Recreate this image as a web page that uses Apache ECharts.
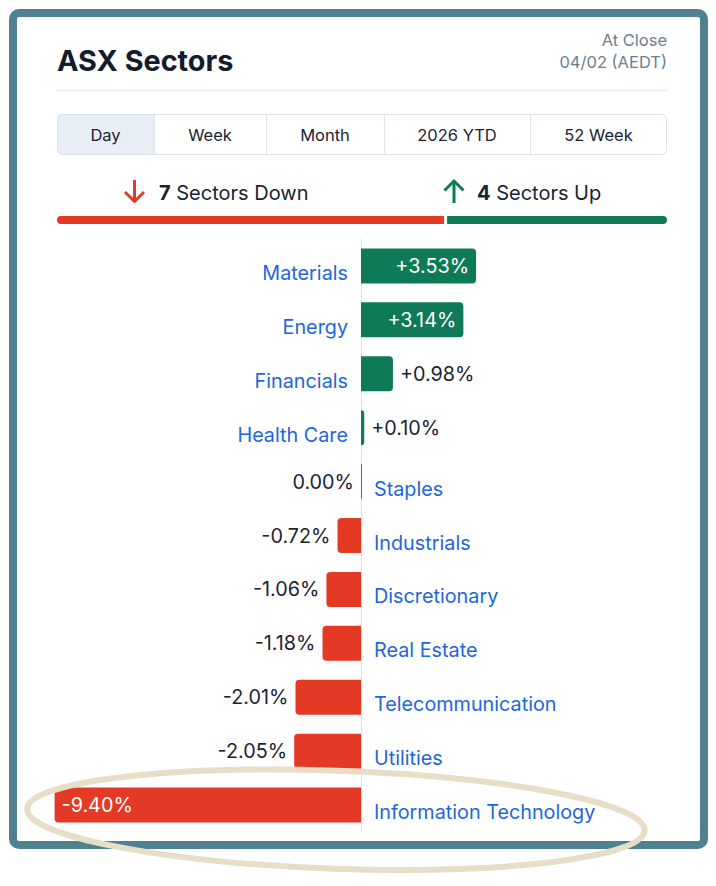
<!DOCTYPE html>
<html>
<head>
<meta charset="utf-8">
<style>
  html, body { margin: 0; padding: 0; background: #ffffff; }
  #chart { width: 716px; height: 886px; }
</style>
<script src="https://cdn.jsdelivr.net/npm/echarts@6/dist/echarts.min.js"></script>
</head>
<body>
<div id="chart"></div>
<script>
// ---------- DATA ----------
const categories = ['Materials', 'Energy', 'Financials', 'Health Care', 'Staples', 'Industrials',
  'Discretionary', 'Real Estate', 'Telecommunication', 'Utilities', 'Information Technology'];
const changes = [3.53, 3.14, 0.98, 0.10, 0.00, -0.72, -1.06, -1.18, -2.01, -2.05, -9.40];
const tabs = ['Day', 'Week', 'Month', '2026 YTD', '52 Week'];
const activeTab = 'Day';
const title = 'ASX Sectors';
const statusLines = ['At Close', '04/02 (AEDT)'];

// ---------- STYLE ----------
const FONT = 'Inter, "Noto Sans", sans-serif';
const GREEN = '#0e7a57';
const RED = '#e43a25';
const BLUE = '#2266db';
const DARK = '#1b2333';
const FRAME = '#4f8191';
const LABEL_SIZE = 19.8;

const upCount = changes.filter(v => v > 0).length;
const downCount = changes.filter(v => v <= 0).length;

function fmt(v) { return (v > 0 ? '+' : '') + v.toFixed(2) + '%'; }

// tab layout (widths in px)
const tabX0 = 57, tabY = 114, tabH = 40;
const tabWidths = [97, 112, 118, 146, 137];

const graphics = [];
// frame
graphics.push({ type: 'rect', shape: { x: 13, y: 13, width: 691, height: 832, r: 6 },
  style: { fill: '#ffffff', stroke: FRAME, lineWidth: 8 }, z: -10 });
// title
graphics.push({ type: 'text', x: 57, y: 60, style: { text: title, font: 'bold 28.8px ' + FONT,
  fill: '#141b2b', verticalAlign: 'middle', textAlign: 'left' } });
graphics.push({ type: 'text', x: 667, y: 40, style: { text: statusLines[0], font: '16.5px ' + FONT,
  fill: '#6a7e95', verticalAlign: 'middle', textAlign: 'right' } });
graphics.push({ type: 'text', x: 667, y: 62, style: { text: statusLines[1], font: '16.5px ' + FONT,
  fill: '#6a7e95', verticalAlign: 'middle', textAlign: 'right' } });
// divider
graphics.push({ type: 'line', shape: { x1: 57, y1: 90.5, x2: 667, y2: 90.5 },
  style: { stroke: '#e4e9f0', lineWidth: 1.5 } });
// tabs
let tx = tabX0;
tabs.forEach((t, i) => {
  const w = tabWidths[i];
  if (t === activeTab) {
    graphics.push({ type: 'rect', shape: { x: tx, y: tabY, width: w, height: tabH, r: i === 0 ? [5, 0, 0, 5] : 0 },
      style: { fill: '#e8eef6' } });
  }
  if (i > 0) {
    graphics.push({ type: 'line', shape: { x1: tx + 0.5, y1: tabY, x2: tx + 0.5, y2: tabY + tabH },
      style: { stroke: '#dfe5ed', lineWidth: 1 } });
  }
  graphics.push({ type: 'text', x: tx + w / 2, y: tabY + tabH / 2 + 1, style: { text: t, font: '16.5px ' + FONT,
    fill: DARK, textAlign: 'center', verticalAlign: 'middle' } });
  tx += w;
});
graphics.push({ type: 'rect', shape: { x: tabX0 + 0.5, y: tabY + 0.5, width: 609, height: tabH, r: 5 },
  style: { fill: 'none', stroke: '#dbe2ea', lineWidth: 1 } });
// arrows
graphics.push({ type: 'line', shape: { x1: 134.5, y1: 180, x2: 134.5, y2: 201 }, style: { stroke: RED, lineWidth: 3 } });
graphics.push({ type: 'polyline', shape: { points: [[125, 192], [134.5, 201.5], [144, 192]] },
  style: { stroke: RED, lineWidth: 3, fill: 'none' } });
graphics.push({ type: 'line', shape: { x1: 454, y1: 182, x2: 454, y2: 203 }, style: { stroke: GREEN, lineWidth: 3 } });
graphics.push({ type: 'polyline', shape: { points: [[444.5, 190.5], [454, 181], [463.5, 190.5]] },
  style: { stroke: GREEN, lineWidth: 3, fill: 'none' } });
// counts text
graphics.push({ type: 'text', x: 159, y: 193, style: { text: '{b|' + downCount + '} Sectors Down',
  font: '20px ' + FONT, fill: DARK, verticalAlign: 'middle',
  rich: { b: { fontWeight: 'bold', fontSize: 20, fontFamily: FONT, fill: DARK } } } });
graphics.push({ type: 'text', x: 477, y: 193, style: { text: '{b|' + upCount + '} Sectors Up',
  font: '20px ' + FONT, fill: DARK, verticalAlign: 'middle',
  rich: { b: { fontWeight: 'bold', fontSize: 20, fontFamily: FONT, fill: DARK } } } });
// annotation ellipse
graphics.push({ type: 'ellipse', shape: { cx: 336, cy: 820, rx: 309, ry: 49 },
  rotation: -0.035, originX: 336, originY: 820,
  style: { fill: 'none', stroke: '#e6dec6', lineWidth: 6 }, z: 100 });

const valueData = changes.map(v => {
  const pos = v > 0;
  const inside = Math.abs(v) >= 3;
  return {
    value: v,
    itemStyle: { color: pos ? GREEN : RED, borderRadius: pos ? [0, 4, 4, 0] : [4, 0, 0, 4] },
    label: {
      position: pos ? (inside ? 'insideRight' : 'right') : (inside ? 'insideLeft' : 'left'),
      color: inside ? '#ffffff' : DARK
    }
  };
});
const nameData = changes.map(v => ({
  value: v,
  label: { position: v > 0 ? 'left' : 'right' }
}));

const chart = echarts.init(document.getElementById('chart'), null, { renderer: 'svg' });
chart.setOption({
  backgroundColor: '#ffffff',
  animation: false,
  graphic: graphics,
  grid: [
    { left: 35, width: 652, top: 239, height: 593 },
    { left: 55.5, width: 613, top: 214.5, height: 11 }
  ],
  xAxis: [
    { gridIndex: 0, type: 'value', min: -10, max: 10, show: false },
    { gridIndex: 1, type: 'value', min: 0, max: upCount + downCount, show: false }
  ],
  yAxis: [
    { gridIndex: 0, type: 'category', data: categories, inverse: true,
      axisLine: { show: true, onZero: true, lineStyle: { color: '#e0e0e0', width: 1 } },
      axisTick: { show: false }, axisLabel: { show: false } },
    { gridIndex: 1, type: 'category', data: ['sectors'], show: false }
  ],
  series: [
    {
      type: 'bar', name: 'change', xAxisIndex: 0, yAxisIndex: 0,
      data: valueData, barWidth: 35, barMinHeight: 1, z: 3,
      label: { show: true, formatter: p => fmt(p.value), distance: 7,
        fontSize: LABEL_SIZE, fontFamily: FONT }
    },
    {
      type: 'bar', name: 'names', xAxisIndex: 0, yAxisIndex: 0,
      data: nameData, barWidth: 35, barGap: '-100%', silent: true, z: 2,
      itemStyle: { color: 'rgba(0,0,0,0)' },
      label: { show: true, formatter: p => categories[p.dataIndex], distance: 13,
        offset: [0, 7], fontSize: LABEL_SIZE, fontFamily: FONT, color: BLUE }
    },
    {
      type: 'bar', name: 'down', xAxisIndex: 1, yAxisIndex: 1, stack: 'ud',
      data: [downCount], barWidth: 11, silent: true,
      itemStyle: { color: RED, borderColor: '#ffffff', borderWidth: 1.5, borderRadius: [5.5, 0, 0, 5.5] }
    },
    {
      type: 'bar', name: 'up', xAxisIndex: 1, yAxisIndex: 1, stack: 'ud',
      data: [upCount], barWidth: 11, silent: true,
      itemStyle: { color: GREEN, borderColor: '#ffffff', borderWidth: 1.5, borderRadius: [0, 5.5, 5.5, 0] }
    }
  ]
});
</script>
</body>
</html>
